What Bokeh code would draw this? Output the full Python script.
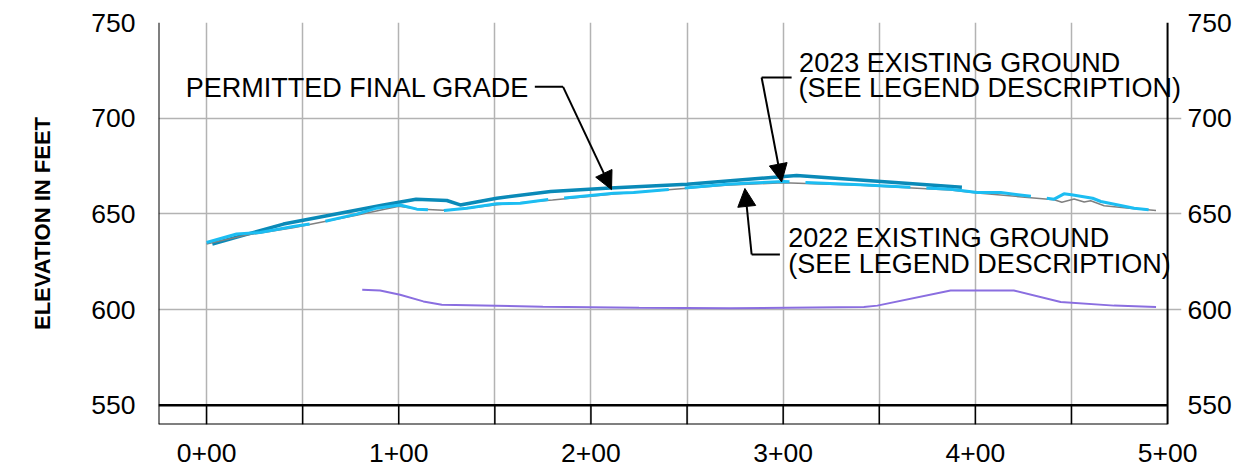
from bokeh.plotting import figure
from bokeh.models import Range1d, FixedTicker, LinearAxis, Span, Label, Arrow, NormalHead
from bokeh.embed import file_html
from bokeh.resources import INLINE

# ---------------- data ----------------
x_ticks = [0, 100, 200, 300, 400, 500]
x_tick_labels = ["0+00", "1+00", "2+00", "3+00", "4+00", "5+00"]
grid_stations = [0, 50, 100, 150, 200, 250, 300, 350, 400, 450]
y_ticks = [550, 600, 650, 700, 750]
y_grid = [600, 650, 700, 750]
x_start, x_end = -25, 500          # station limits of the profile box
y_bottom, y_base = 540, 550        # bottom strip of the profile box

# Permitted final grade
st_final = [3, 40, 92, 109, 125, 132, 151, 179, 210, 250, 307, 393]
el_final = [634.3, 644.7, 654.7, 657.7, 657.0, 654.7, 658.2, 661.7, 663.5, 665.5, 670.1, 663.9]

# 2022 existing ground
st_2022 = [0, 20, 45, 78, 100, 110, 123, 135, 151, 180, 212, 270, 300, 340, 387, 401,
           441, 445, 451.4, 456.6, 460, 467, 480, 489.6, 494]
el_2022 = [634.3, 638.8, 642.8, 649.3, 654.0, 652.6, 651.9, 652.8, 654.8, 657.3, 660.4,
           665.0, 666.3, 665.0, 662.5, 660.9, 657.4, 656.1, 657.8, 656.2, 656.9, 654.3,
           653.0, 652.2, 651.8]

# 2023 existing ground
st_2023 = [0, 15.6, 27.8, 45.1, 59, 78.1, 88.5, 100.7, 109.4, 123.2, 135.4, 151, 163.2,
           178.8, 211.8, 222.2, 270.8, 283, 300.3, 340.3, 387.1, 401, 413.2, 441, 446.1,
           450, 461, 465.3, 482.6, 494]
el_2023 = [635.1, 639.5, 640.3, 643.4, 645.5, 649.9, 653.0, 654.7, 652.5, 651.8, 653.0,
           655.3, 655.6, 657.7, 660.8, 661.2, 665.5, 666.1, 666.9, 665.2, 662.9, 661.2,
           661.2, 657.7, 660.5, 660.0, 658.2, 656.5, 653.0, 651.8]

# lower purple line
st_low = [81, 90.3, 100.7, 112.8, 122.4, 175, 225, 272.5, 342, 349, 387.1, 420, 444.4, 472.2, 494]
el_low = [610.4, 610.0, 607.8, 604.3, 602.6, 601.5, 601.0, 600.7, 601.4, 602.1, 610.0,
          610.0, 604.0, 602.1, 601.4]

FONT = "Liberation Sans"

p = figure(width=1240, height=472, x_range=Range1d(-25, 507.25), y_range=Range1d(540, 750),
           output_backend="svg", toolbar_location=None,
           min_border_left=158, min_border_right=59, min_border_top=22, min_border_bottom=48)
p.outline_line_color = None
p.background_fill_color = "white"
p.border_fill_color = "white"

# grid
p.xgrid.ticker = FixedTicker(ticks=grid_stations)
p.ygrid.ticker = FixedTicker(ticks=y_grid)
p.ygrid.bounds = (x_start, x_end)
p.grid.grid_line_color = "#b3b3b3"
p.grid.grid_line_width = 1.5

# axes
def style_axis(ax, standoff):
    ax.axis_line_color = None
    ax.major_tick_line_color = None
    ax.minor_tick_line_color = None
    ax.major_label_standoff = standoff
    ax.major_label_text_font = FONT
    ax.major_label_text_font_size = "26.5px"
    ax.major_label_text_color = "black"

xa = p.xaxis[0]
xa.ticker = FixedTicker(ticks=x_ticks)
xa.major_label_overrides = {t: l for t, l in zip(x_ticks, x_tick_labels)}
style_axis(xa, 13)

ya = p.yaxis[0]
ya.ticker = FixedTicker(ticks=y_ticks)
style_axis(ya, 17)
ya.axis_label = "ELEVATION IN FEET"
ya.axis_label_text_font = FONT
ya.axis_label_text_font_size = "22px"
ya.axis_label_text_font_style = "bold"
ya.axis_label_text_color = "black"
ya.axis_label_standoff = 33

yr = LinearAxis(ticker=FixedTicker(ticks=y_ticks))
style_axis(yr, 0)
p.add_layout(yr, "right")

# frame borders
for loc in (x_start, x_end):
    p.add_layout(Span(location=loc, dimension="height", line_color="black", line_width=2))
p.segment(x0=[x_start], y0=[y_bottom], x1=[x_end], y1=[y_bottom], line_color="black", line_width=2)
p.segment(x0=[x_start], y0=[y_base], x1=[x_end], y1=[y_base], line_color="black", line_width=2.5)
p.segment(x0=grid_stations, y0=[y_bottom] * len(grid_stations), x1=grid_stations,
          y1=[y_base] * len(grid_stations), line_color="black", line_width=1.5)

# data lines
p.line(st_low, el_low, line_color="#8a6ee0", line_width=2)
p.line(st_final, el_final, line_color="#0a8ab8", line_width=3.5)
p.line(st_2022, el_2022, line_color="#808080", line_width=1.5)
p.line(st_2023, el_2023, line_color="#1cbdf2", line_width=3, line_dash="105 16")

# annotations
def label(x, y, text):
    p.add_layout(Label(x=x, y=y, text=text, text_font=FONT, text_font_size="27px",
                       text_color="black", text_align="left", text_baseline="alphabetic"))

def callout(xa_, xb, y, xt, yt):
    p.line([xa_, xb], [y, y], line_color="black", line_width=2)
    p.add_layout(Arrow(end=NormalHead(size=18, fill_color="black", line_color="black"),
                       x_start=xb, y_start=y, x_end=xt, y_end=yt,
                       line_color="black", line_width=2))

label(-10.8, 715.8, "PERMITTED FINAL GRADE")
callout(170.8, 185.5, 716.4, 210.7, 662.7)

label(308.3, 728.9, "2023 EXISTING GROUND")
label(308.0, 715.8, "(SEE LEGEND DESCRIPTION)")
callout(304.4, 288.8, 721.3, 299.2, 666.7)

label(302.6, 637.5, "2022 EXISTING GROUND")
label(302.6, 624.1, "(SEE LEGEND DESCRIPTION)")
callout(298.3, 283.6, 628.8, 280.1, 663.3)

open("out.html", "w").write(file_html(p, INLINE))
